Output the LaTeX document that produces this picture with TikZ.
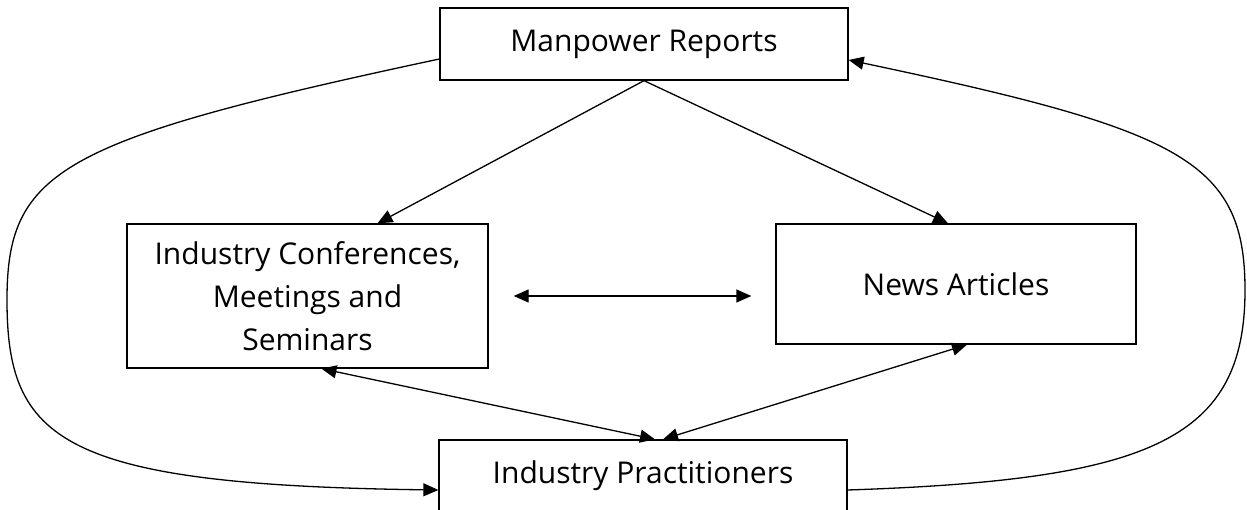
\documentclass[tikz,border=0pt]{standalone}
\usepackage{fontspec}
\setmainfont{Open Sans}
\usetikzlibrary{arrows.meta}

\begin{document}
\begin{tikzpicture}[x=1pt,y=-1pt,
  box/.style={draw,line width=1.3pt,inner sep=0pt,align=center,
    font=\fontsize{30}{43}\selectfont},
  arr/.style={line width=1.3pt,-{Triangle[length=15pt,width=13pt]}},
  biarr/.style={line width=1.3pt,{Triangle[length=15pt,width=13pt]}-{Triangle[length=15pt,width=13pt]}}]
\clip (0,0) rectangle (1247,510);

\node[box,minimum width=408pt,minimum height=72pt] (mp) at (644,44) {Manpower Reports};
\node[box,minimum width=361pt,minimum height=144pt] (conf) at (307.5,296) {Industry Conferences,\\Meetings and\\Seminars};
\node[box,minimum width=360pt,minimum height=120pt] (news) at (956,284) {News Articles};
\node[box,minimum width=408pt,minimum height=72pt] (prac) at (643,476) {Industry Practitioners};

\draw[arr] (mp.south) -- ([xshift=70pt]conf.north);
\draw[arr] (mp.south) -- ([xshift=-8pt]news.north);
\draw[biarr,shorten <=25pt,shorten >=24pt] (conf.east) -- (conf.east -| news.west);
\draw[biarr] ([xshift=14pt]conf.south) -- ([xshift=12pt]prac.north);
\draw[biarr] ([xshift=11pt]news.south) -- ([xshift=20pt]prac.north);

% loops round the outside
\draw[arr] ([yshift=-15pt]mp.west) .. controls (60,140) and (7,170) .. (7,300)
  .. controls (7,440) and (60,485) .. ([yshift=-14pt]prac.west);
\draw[arr] ([yshift=-14pt]prac.east) .. controls (1150,480) and (1245,440) .. (1245,290)
  .. controls (1245,160) and (1180,130) .. ([yshift=-16pt]mp.east);
\end{tikzpicture}
\end{document}
